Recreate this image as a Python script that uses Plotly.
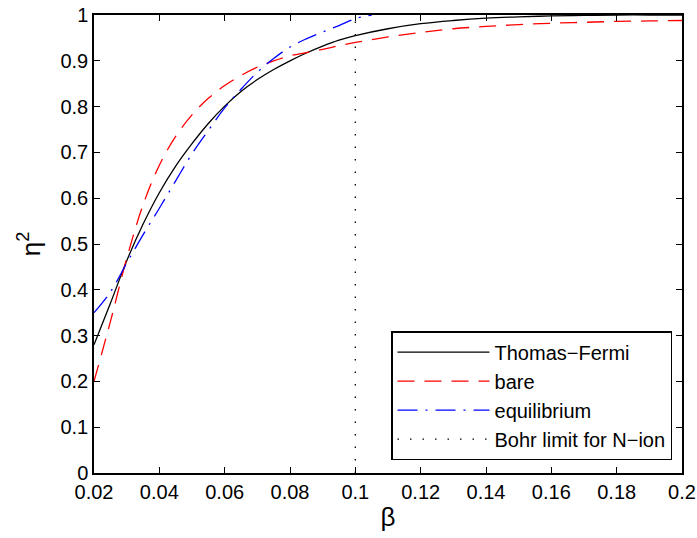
import plotly.graph_objects as go

# Data
beta_tf = [0.02, 0.025, 0.03, 0.035, 0.04, 0.045, 0.05, 0.055, 0.06, 0.065, 0.07, 0.075,
           0.08, 0.085, 0.09, 0.095, 0.1, 0.11, 0.12, 0.13, 0.14, 0.15, 0.16, 0.17, 0.18, 0.19, 0.2]
eta_tf = [0.28, 0.37, 0.463, 0.543, 0.612, 0.67, 0.719, 0.763, 0.801, 0.833, 0.859, 0.881,
          0.9, 0.917, 0.932, 0.945, 0.955, 0.97, 0.981, 0.988, 0.993, 0.996, 0.998, 0.999, 1.0, 1.0, 1.0]

beta_bare = [0.02, 0.025, 0.03, 0.035, 0.04, 0.045, 0.05, 0.055, 0.06, 0.065, 0.07, 0.075,
             0.08, 0.085, 0.09, 0.095, 0.1, 0.11, 0.12, 0.13, 0.14, 0.15, 0.16, 0.17, 0.18, 0.19, 0.2]
eta_bare = [0.2, 0.33, 0.468, 0.585, 0.672, 0.735, 0.782, 0.818, 0.846, 0.868, 0.886, 0.9,
            0.911, 0.918, 0.925, 0.933, 0.94, 0.952, 0.962, 0.97, 0.975, 0.979, 0.982, 0.984, 0.986, 0.987, 0.988]

beta_eq = [0.02, 0.025, 0.03, 0.035, 0.04, 0.045, 0.05, 0.055, 0.06, 0.065, 0.07, 0.075,
           0.08, 0.085, 0.09, 0.095, 0.1, 0.105]
eta_eq = [0.35, 0.395, 0.458, 0.52, 0.578, 0.638, 0.697, 0.748, 0.797, 0.838, 0.875, 0.905,
          0.93, 0.948, 0.963, 0.977, 0.992, 1.0]

beta_bohr = [0.1, 0.1]
eta_bohr = [0.0, 1.0]

x_ticks = [0.02, 0.04, 0.06, 0.08, 0.1, 0.12, 0.14, 0.16, 0.18, 0.2]
x_ticklabels = ["0.02", "0.04", "0.06", "0.08", "0.1", "0.12", "0.14", "0.16", "0.18", "0.2"]
y_ticks = [0, 0.1, 0.2, 0.3, 0.4, 0.5, 0.6, 0.7, 0.8, 0.9, 1]
y_ticklabels = ["0", "0.1", "0.2", "0.3", "0.4", "0.5", "0.6", "0.7", "0.8", "0.9", "1"]

FONT = "Liberation Sans, Arial, Helvetica, sans-serif"

fig = go.Figure()
fig.add_trace(go.Scatter(x=beta_tf, y=eta_tf, mode="lines", name="Thomas\u2212Fermi",
                         line=dict(color="black", width=1.3), line_shape="spline"))
fig.add_trace(go.Scatter(x=beta_bare, y=eta_bare, mode="lines", name="bare",
                         line=dict(color="red", width=1.3, dash="17px,10px"), line_shape="spline"))
fig.add_trace(go.Scatter(x=beta_eq, y=eta_eq, mode="lines", name="equilibrium",
                         line=dict(color="blue", width=1.3, dash="20px,8px,2px,8px"), line_shape="spline"))
fig.add_trace(go.Scatter(x=beta_bohr, y=eta_bohr, mode="lines", name="Bohr limit for N\u2212ion",
                         line=dict(color="black", width=1.3, dash="1.5px,11px")))

axis_common = dict(
    showline=True, linecolor="black", linewidth=1.5, mirror="ticks",
    ticks="inside", ticklen=6, tickcolor="black", tickwidth=1,
    showgrid=False, zeroline=False, automargin=False,
    tickfont=dict(family=FONT, size=20, color="black"),
)

fig.update_layout(
    width=697, height=538,
    margin=dict(l=94, r=15, t=15, b=65),
    plot_bgcolor="white", paper_bgcolor="white",
    font=dict(family=FONT, color="black"),
    xaxis=dict(range=[0.02, 0.2], tickvals=x_ticks, ticktext=x_ticklabels,
               title=dict(text="\u03b2", font=dict(family=FONT, size=26), standoff=6),
               **axis_common),
    yaxis=dict(range=[0, 1], tickvals=y_ticks, ticktext=y_ticklabels,
               title=dict(text="\u03b7<sup>2</sup>", font=dict(family=FONT, size=26), standoff=12),
               **axis_common),
    legend=dict(x=0.983, y=0.028, xanchor="right", yanchor="bottom",
                bgcolor="white", bordercolor="black", borderwidth=1.5,
                font=dict(family=FONT, size=20, color="black"),
                itemwidth=92, tracegroupgap=0),
    showlegend=True,
)

fig.write_html("out.html")
